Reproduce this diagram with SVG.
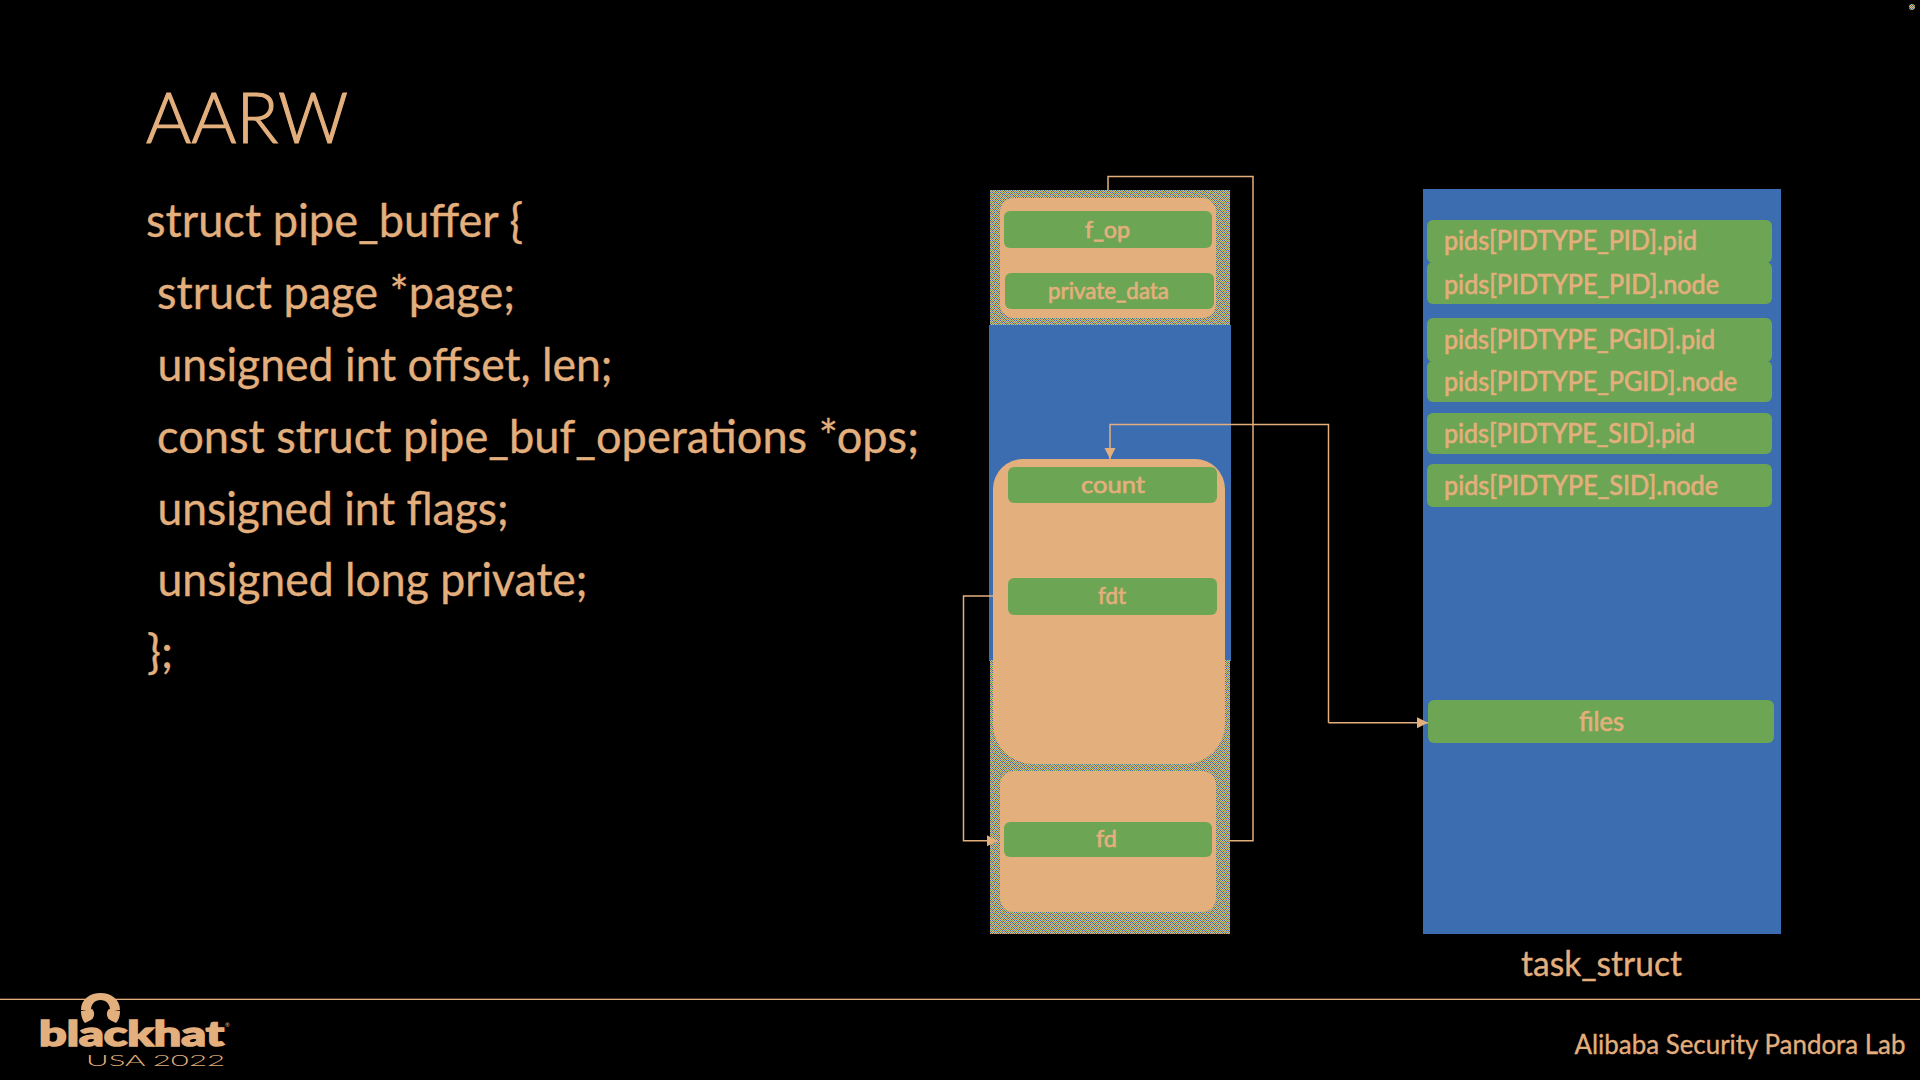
<svg xmlns="http://www.w3.org/2000/svg" width="1920" height="1080" viewBox="0 0 1920 1080">
<style>
text{font-family:Lato,"Liberation Sans",sans-serif;fill:#E3AF7D;stroke:#E3AF7D;stroke-width:.35px}
.p{fill:#E3AF7D}.b{fill:#3C6DB1}.g{fill:#6CA553}
.body{font-size:46px}
.lbl{font-size:24px;stroke-width:.7px}
.pid{font-size:26px;stroke-width:.7px}
.conn{fill:none;stroke:#E3AF7D;stroke-width:1.5}
</style>
<defs>
<pattern id="dither" width="8" height="8" patternUnits="userSpaceOnUse" shape-rendering="crispEdges">
<rect width="8" height="8" fill="#E3AF7D"/>
<path fill="#3C6DB1" d="M0,0h1v1h-1z M6,0h1v1h-1z M1,1h1v1h-1z M3,1h1v1h-1z M2,2h1v1h-1z M4,2h1v1h-1z M5,3h1v1h-1z M7,3h1v1h-1z M2,4h1v1h-1z M6,4h1v1h-1z M1,5h1v1h-1z M7,5h1v1h-1z M0,6h1v1h-1z M4,6h1v1h-1z M3,7h1v1h-1z M5,7h1v1h-1z"/>
<path fill="#6CA553" d="M2,0h1v1h-1z M4,0h1v1h-1z M5,1h1v1h-1z M7,1h1v1h-1z M0,2h1v1h-1z M6,2h1v1h-1z M1,3h1v1h-1z M3,3h1v1h-1z M0,4h1v1h-1z M4,4h1v1h-1z M3,5h1v1h-1z M5,5h1v1h-1z M2,6h1v1h-1z M6,6h1v1h-1z M1,7h1v1h-1z M7,7h1v1h-1z"/>
</pattern>
<marker id="arrow" markerUnits="userSpaceOnUse" markerWidth="12" markerHeight="12" refX="11" refY="6" orient="auto"><path d="M0,0.5 L11,6 L0,11.5 Z" fill="#E3AF7D"/></marker>
</defs>
<rect width="1920" height="1080" fill="#000"/>
<circle cx="1912" cy="7" r="3" fill="url(#dither)"/>

<g id="title"><text x="146" y="143" style="font-size:71px;font-weight:300;stroke-width:1.2px" textLength="202" lengthAdjust="spacingAndGlyphs">AARW</text></g>
<g id="code">
<text class="body" x="146" y="237" textLength="377" lengthAdjust="spacingAndGlyphs">struct pipe_buffer {</text>
<text class="body" x="157" y="309" textLength="358" lengthAdjust="spacingAndGlyphs">struct page *page;</text>
<text class="body" x="157.5" y="380.5" textLength="455" lengthAdjust="spacingAndGlyphs">unsigned int offset, len;</text>
<text class="body" x="157" y="453" textLength="762" lengthAdjust="spacingAndGlyphs">const struct pipe_buf_operations *ops;</text>
<text class="body" x="157.5" y="525" textLength="351" lengthAdjust="spacingAndGlyphs">unsigned int flags;</text>
<text class="body" x="157.5" y="596" textLength="430" lengthAdjust="spacingAndGlyphs">unsigned long private;</text>
<text class="body" x="147" y="668" textLength="26" lengthAdjust="spacingAndGlyphs">};</text>
</g>

<g id="file-column">
<rect x="990" y="190" width="240" height="135" fill="url(#dither)"/>
<rect x="989" y="325" width="242" height="336" class="b"/>
<rect x="990" y="660" width="240" height="274" fill="url(#dither)"/>
</g>
<g id="file-top">
<rect x="1000" y="198" width="216" height="120" rx="14" class="p"/>
<rect x="1004" y="211" width="208" height="37" rx="6" class="g"/>
<text class="lbl" x="1085" y="238" textLength="45" lengthAdjust="spacingAndGlyphs">f_op</text>
<rect x="1005" y="273" width="209" height="36" rx="6" class="g"/>
<text class="lbl" x="1048" y="299" textLength="121" lengthAdjust="spacingAndGlyphs">private_data</text>
</g>
<g id="files-struct">
<path d="M1023,459 H1195 A30,30 0 0 1 1225,489 V724 A40,40 0 0 1 1185,764 H1033 A40,40 0 0 1 993,724 V489 A30,30 0 0 1 1023,459 Z" class="p"/>
<rect x="1008" y="467" width="209" height="36" rx="6" class="g"/>
<text class="lbl" x="1081" y="493" textLength="64" lengthAdjust="spacingAndGlyphs">count</text>
<rect x="1008" y="578" width="209" height="37" rx="6" class="g"/>
<text class="lbl" x="1098" y="604" textLength="28" lengthAdjust="spacingAndGlyphs">fdt</text>
</g>
<g id="fdtable">
<rect x="1000" y="771" width="216" height="141" rx="14" class="p"/>
<rect x="1004" y="822" width="208" height="35" rx="6" class="g"/>
<text class="lbl" x="1096" y="847" textLength="21" lengthAdjust="spacingAndGlyphs">fd</text>
</g>

<g id="task-struct">
<rect x="1423" y="189" width="358" height="745" class="b"/>
<text x="1521" y="976" style="font-size:34px" textLength="161" lengthAdjust="spacingAndGlyphs">task_struct</text>
</g>
<g id="pid-pid"><rect x="1427" y="220" width="345" height="43" rx="6" class="g"/><text class="pid" x="1444" y="250" textLength="253" lengthAdjust="spacingAndGlyphs">pids[PIDTYPE_PID].pid</text></g>
<g id="pid-node"><rect x="1427" y="262" width="345" height="42" rx="6" class="g"/><text class="pid" x="1444" y="294" textLength="275" lengthAdjust="spacingAndGlyphs">pids[PIDTYPE_PID].node</text></g>
<g id="pgid-pid"><rect x="1427" y="318" width="345" height="44" rx="6" class="g"/><text class="pid" x="1444" y="349" textLength="271" lengthAdjust="spacingAndGlyphs">pids[PIDTYPE_PGID].pid</text></g>
<g id="pgid-node"><rect x="1427" y="361" width="345" height="41" rx="6" class="g"/><text class="pid" x="1444" y="391" textLength="293" lengthAdjust="spacingAndGlyphs">pids[PIDTYPE_PGID].node</text></g>
<g id="sid-pid"><rect x="1427" y="413" width="345" height="41" rx="6" class="g"/><text class="pid" x="1444" y="443" textLength="251" lengthAdjust="spacingAndGlyphs">pids[PIDTYPE_SID].pid</text></g>
<g id="sid-node"><rect x="1427" y="464" width="345" height="43" rx="6" class="g"/><text class="pid" x="1444" y="495" textLength="274" lengthAdjust="spacingAndGlyphs">pids[PIDTYPE_SID].node</text></g>
<g id="files"><rect x="1428" y="700" width="346" height="43" rx="6" class="g"/><text class="pid" x="1579" y="731" textLength="45" lengthAdjust="spacingAndGlyphs">files</text></g>

<g id="connectors">
<path class="conn" d="M1108,190 V176.5 H1253 V840.7 H1230"/>
<path class="conn" d="M1328.5,722.7 V424.5 H1110 V459" marker-end="url(#arrow)"/>
<path class="conn" d="M1328.5,722.7 H1428" marker-end="url(#arrow)"/>
<path class="conn" d="M993,596 H963.5 V840.7 H998" marker-end="url(#arrow)"/>
</g>

<g id="footer">
<rect x="0" y="998.7" width="1920" height="1.3" class="p"/>
<path class="p" d="M81,1010 C81,999 90,993 100.5,993 C111,993 120,999 120,1010 L110,1010 C110,1004 106,1000 100.5,1000 C95,1000 91,1004 91,1010 Z"/>
<path class="p" d="M81,1011 L92,1009 C95,1012 95,1017 91,1020 L85,1023 C82,1020 81,1015 81,1011 Z"/>
<path class="p" d="M120,1011 L109,1009 C106,1012 106,1017 110,1020 L116,1023 C119,1020 120,1015 120,1011 Z"/>
<text x="39" y="1046" style="font-size:35px;font-weight:900;stroke-width:1.6px" textLength="185" lengthAdjust="spacingAndGlyphs">blackhat</text>
<text x="225" y="1027" style="font-size:6px;stroke-width:0">®</text>
<text x="86" y="1066" style="font-size:16px;font-weight:300;stroke-width:0" textLength="139" lengthAdjust="spacingAndGlyphs">USA 2022</text>
<text x="1574.5" y="1053.5" style="font-size:27px" textLength="331" lengthAdjust="spacingAndGlyphs">Alibaba Security Pandora Lab</text>
</g>
</svg>
